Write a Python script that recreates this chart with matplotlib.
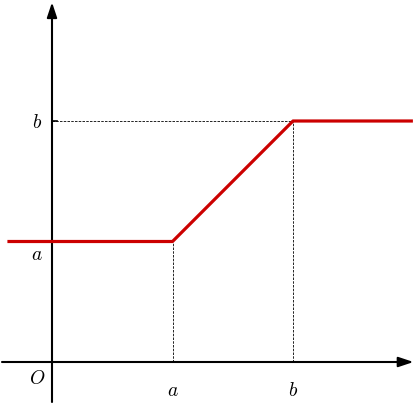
import numpy as np
import matplotlib.pyplot as plt

plt.rcParams['mathtext.fontset'] = 'cm'

# piecewise function: constant a, rising to b, then constant b
a = 1.0
b = 2.0
xs = [-0.37, a, b, 2.995]
ys = [a, a, b, b]

x_ticks = [a, b]
x_labels = [r'$a$', r'$b$']
y_ticks = [a, b]
y_labels = [r'$a$', r'$b$']

W, H = 416, 406
scale = 120.5          # pixels per unit
ox, oy = 52, 363       # origin in pixels

fig = plt.figure(figsize=(W / 100, H / 100), dpi=100)
ax = fig.add_axes([0, 0, 1, 1])
ax.set_xlim(-ox / scale, (W - ox) / scale)
ax.set_ylim((oy - H) / scale, oy / scale)
ax.axis('off')

arrow = dict(arrowstyle='-|>,head_length=0.9,head_width=0.3', lw=1.5,
             color='black', shrinkA=0, shrinkB=0, mutation_scale=10)
ax.annotate('', xy=(3.0, 0), xytext=(-0.415, 0), arrowprops=arrow)
ax.annotate('', xy=(0, 2.985), xytext=(0, -0.332), arrowprops=arrow)

# guide lines
dash = dict(color='black', lw=0.6, linestyle=(0, (3, 1.5)))
ax.plot([a, a], [0, a], **dash)
ax.plot([b, b], [0, b], **dash)
ax.plot([0, b], [b, b], **dash)
ax.plot([0, 0.045], [b, b], color='black', lw=1.2)

ax.plot(xs, ys, color='#cc0000', lw=2.3, solid_capstyle='butt', zorder=5)

fs = 14
for x, lab in zip(x_ticks, x_labels):
    ax.text(x, -0.225, lab, fontsize=fs, ha='center', va='center')
for y, lab in zip(y_ticks, y_labels):
    ax.text(-0.125, y - (0.1 if y == a else 0), lab, fontsize=fs,
            ha='center', va='center')
ax.text(-0.125, -0.125, r'$O$', fontsize=fs, ha='center', va='center')

fig.savefig('out.png', dpi=100)
